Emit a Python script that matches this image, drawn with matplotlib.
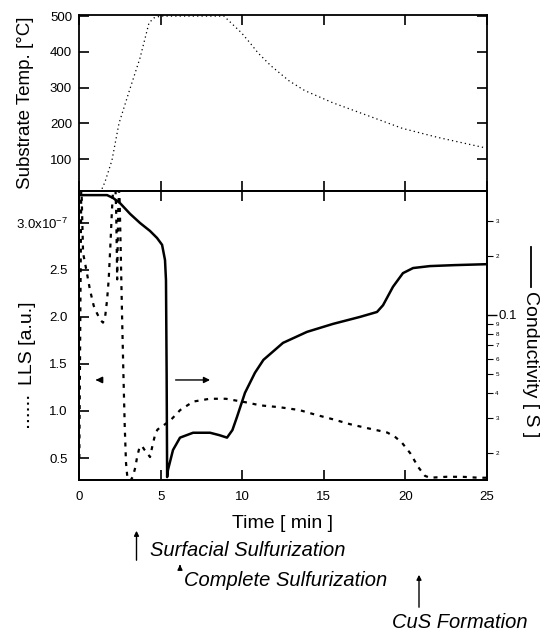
import matplotlib
matplotlib.use('Agg')
import matplotlib.pyplot as plt
from matplotlib.lines import Line2D
from matplotlib.patches import FancyArrowPatch
from matplotlib.ticker import FixedLocator, FixedFormatter

plt.rcParams['font.family'] = ['Liberation Sans', 'DejaVu Sans']
plt.rcParams['mathtext.fontset'] = 'custom'
plt.rcParams['mathtext.rm'] = 'Liberation Sans'
plt.rcParams['mathtext.it'] = 'Liberation Sans:italic'

# ---------------- data ----------------
temp_time = [1.2, 1.38, 1.59, 2.02, 2.45, 3.09, 3.74, 4.29, 4.60, 5.0, 6.0, 7.0, 8.0, 8.88,
             9.96, 10.48, 10.97, 11.76, 12.87, 13.82, 15.53, 17.68, 19.82, 21.97, 24.76]
temp_vals = [11, 14, 36, 97, 200, 292, 383, 481, 495, 500, 500, 500, 500, 500,
             453, 425, 397, 361, 319, 292, 258, 222, 186, 161, 133]

lls_time = [0.02, 0.08, 0.14, 0.25, 0.45, 0.67, 0.9, 1.10, 1.30, 1.47, 1.60, 1.72, 1.82, 1.92,
            2.02, 2.12, 2.22, 2.28, 2.34, 2.40, 2.46, 2.52, 2.58, 2.64, 2.72, 2.80, 2.88, 2.96,
            3.05, 3.15, 3.30, 3.45, 3.55, 3.70, 3.85, 4.00, 4.20, 4.35, 4.50, 4.65, 4.80, 5.0,
            5.2, 5.6, 6.2, 7.0, 8.0, 9.0, 10.3, 11.1, 12.3, 13.5, 14.5, 15.6, 16.6, 17.6, 18.4,
            18.9, 19.4, 19.8, 20.3, 20.8, 21.2, 21.5, 22.5, 23.5, 24.5, 25.0]
lls_vals = [0.50, 2.0, 3.45, 2.68, 2.50, 2.29, 2.12, 2.04, 1.97, 1.94, 2.00, 2.18, 2.40, 2.75,
            3.14, 3.45, 3.45, 3.10, 2.40, 3.10, 3.45, 3.00, 2.50, 2.00, 1.40, 0.85, 0.45, 0.30,
            0.28, 0.26, 0.30, 0.40, 0.50, 0.61, 0.63, 0.59, 0.55, 0.51, 0.63, 0.74, 0.80, 0.83,
            0.85, 0.90, 1.01, 1.10, 1.13, 1.13, 1.09, 1.06, 1.04, 1.01, 0.96, 0.91, 0.86, 0.82, 0.79,
            0.77, 0.72, 0.66, 0.55, 0.40, 0.31, 0.29, 0.30, 0.30, 0.29, 0.29]

cond_time = [0.0, 0.5, 1.0, 1.72, 2.08, 2.51, 3.13, 3.74, 4.35, 4.78, 5.09, 5.27, 5.33, 5.37,
             5.40, 5.45, 5.76, 6.19, 6.99, 8.03, 8.6, 9.07, 9.4, 9.68, 10.17, 10.78, 11.3, 12.5,
             13.97, 15.56, 17.22, 18.26, 18.63, 19.24, 19.85, 20.47, 21.5, 23.0, 25.0]
cond_vals = [0.406, 0.406, 0.406, 0.406, 0.393, 0.370, 0.326, 0.293, 0.267, 0.246, 0.227, 0.190,
             0.150, 0.05, 0.0150, 0.0163, 0.0206, 0.0238, 0.0252, 0.0252, 0.0245, 0.0238, 0.026,
             0.0303, 0.0402, 0.0508, 0.0591, 0.0721, 0.082, 0.090, 0.0977, 0.1035, 0.112, 0.139,
             0.163, 0.173, 0.177, 0.179, 0.181]

x_ticks = [0, 5, 10, 15, 20, 25]
temp_ticks = [100, 200, 300, 400, 500]
lls_ticks = [0.5, 1.0, 1.5, 2.0, 2.5, 3.0]
lls_labels = ['0.5', '1.0', '1.5', '2.0', '2.5', '3.0x10$^{-7}$']
cond_major = [0.1]
cond_minor = [0.02, 0.03, 0.04, 0.05, 0.06, 0.07, 0.08, 0.09, 0.2, 0.3]
cond_minor_labels = ['2', '3', '4', '5', '6', '7', '8', '9', '2', '3']

# ---------------- figure ----------------
W, H = 546, 633
fig = plt.figure(figsize=(W / 100, H / 100), dpi=100)
L, R = 79 / W, 487 / W
ax1 = fig.add_axes([L, 1 - 191 / H, R - L, (191 - 15) / H])
ax2 = fig.add_axes([L, 1 - 480 / H, R - L, (480 - 191) / H])
ax3 = ax2.twinx()

for a in (ax1, ax2, ax3):
    for s in a.spines.values():
        s.set_linewidth(1.3)

# top panel
ax1.plot(temp_time, temp_vals, color='k', lw=0.9, linestyle=(0, (1, 2.5)))
ax1.set_xlim(0, 25)
ax1.set_ylim(11, 503)
ax1.set_xticks(x_ticks)
ax1.set_yticks(temp_ticks)
ax1.tick_params(direction='in', top=True, right=True, length=7, width=1.2,
                labelbottom=False, labelsize=9.5, pad=5)

# bottom panel
ax2.plot(lls_time, lls_vals, color='k', lw=1.6, linestyle=(0, (1.8, 2.6)))
ax2.set_xlim(0, 25)
ax2.set_ylim(0.266, 3.34)
ax2.set_xticks(x_ticks)
ax2.set_yticks(lls_ticks)
ax2.set_yticklabels(lls_labels)
ax2.tick_params(axis='both', direction='in', length=7, width=1.2, labelsize=9.5)
ax2.tick_params(axis='x', top=True, pad=8)
ax2.tick_params(axis='y', pad=8)

ax3.plot(cond_time, cond_vals, color='k', lw=1.8)
ax3.set_yscale('log')
ax3.set_ylim(0.0145, 0.426)
ax3.yaxis.set_major_locator(FixedLocator(cond_major))
ax3.yaxis.set_major_formatter(FixedFormatter(['0.1']))
ax3.yaxis.set_minor_locator(FixedLocator(cond_minor))
ax3.yaxis.set_minor_formatter(FixedFormatter(cond_minor_labels))
ax3.tick_params(axis='y', which='major', direction='out', length=7, width=1.0,
                labelsize=9.5, pad=1)
ax3.tick_params(axis='y', which='minor', direction='out', length=4, width=0.8,
                labelsize=4.5, pad=2)

# arrows inside plot
ax2.annotate('', xy=(0.85, 1.33), xytext=(1.35, 1.33),
             arrowprops=dict(arrowstyle='-|>', color='k', lw=1.2, mutation_scale=9))
ax2.annotate('', xy=(8.2, 1.33), xytext=(5.75, 1.33),
             arrowprops=dict(arrowstyle='-|>', color='k', lw=1.0, mutation_scale=9))

# axis labels (figure coordinates)
def fx(px):
    return px / W

def fy(py):
    return 1 - py / H

fig.text(fx(26), fy(103), 'Substrate Temp. [°C]', rotation=90, ha='center', va='center',
         fontsize=13.5)
fig.text(fx(283), fy(523), 'Time [ min ]', ha='center', va='center', fontsize=14)
fig.text(fx(27), fy(343), 'LLS [a.u.]', rotation=90, ha='center', va='center', fontsize=14)
fig.add_artist(Line2D([fx(28), fx(28)], [fy(428), fy(395)], color='k', lw=1.5,
                      linestyle=(0, (1, 1.8)), transform=fig.transFigure))
fig.text(fx(531), fy(364), 'Conductivity [ S ]', rotation=270, ha='center', va='center',
         fontsize=14)
fig.add_artist(Line2D([fx(531), fx(531)], [fy(247), fy(287)], color='k', lw=1.3,
                      transform=fig.transFigure))

# annotations below
arrow_kw = dict(arrowstyle='-|>', color='k', lw=1.0, mutation_scale=7)
fig.add_artist(FancyArrowPatch((fx(136.5), fy(563)), (fx(136.5), fy(528)),
                               transform=fig.transFigure, **arrow_kw))
fig.add_artist(FancyArrowPatch((fx(180), fy(569)), (fx(180), fy(562)),
                               transform=fig.transFigure, **arrow_kw))
fig.add_artist(FancyArrowPatch((fx(419), fy(610)), (fx(419), fy(572)),
                               transform=fig.transFigure, **arrow_kw))
fig.text(fx(150), fy(550), 'Surfacial Sulfurization', ha='left', va='center',
         fontsize=14.5, style='italic')
fig.text(fx(184), fy(580), 'Complete Sulfurization', ha='left', va='center',
         fontsize=14.5, style='italic')
fig.text(fx(392), fy(623), 'CuS Formation', ha='left', va='center',
         fontsize=14.5, style='italic')

fig.savefig('out.png', dpi=100)
